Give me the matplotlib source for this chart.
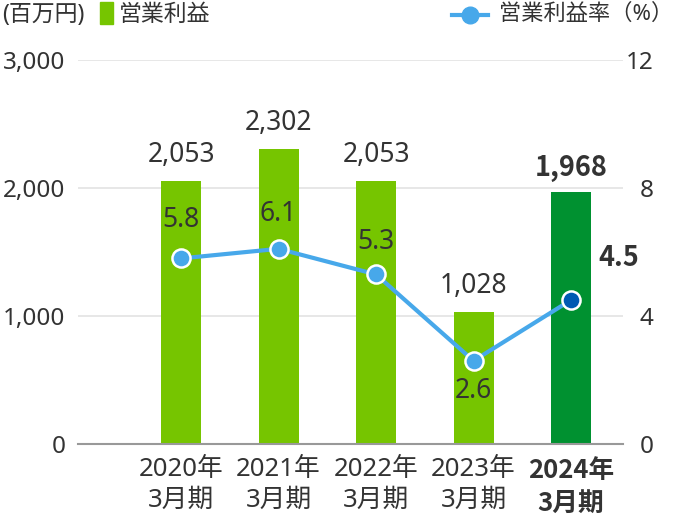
import matplotlib
matplotlib.use('Agg')
import matplotlib.pyplot as plt
from matplotlib.lines import Line2D
from matplotlib.patches import Patch

plt.rcParams['font.family'] = ['Noto Sans', 'Noto Sans CJK JP', 'DejaVu Sans']
BOLD_FAMILY = ['Noto Sans CJK JP', 'DejaVu Sans']  # Noto Sans has no bold here

periods = ['2020年\n3月期', '2021年\n3月期', '2022年\n3月期', '2023年\n3月期', '2024年\n3月期']
profit = [2053, 2302, 2053, 1028, 1968]
margin = [5.8, 6.1, 5.3, 2.6, 4.5]
profit_labels = ['2,053', '2,302', '2,053', '1,028', '1,968']
margin_labels = ['5.8', '6.1', '5.3', '2.6', '4.5']

c_bar = '#76C500'
c_bar_last = '#009130'
c_line = '#47A8EA'
c_pt_last = '#0059B2'
c_text = '#333333'

fig = plt.figure(figsize=(6.75, 5.22), dpi=100)
ax = fig.add_axes([0.1156, 0.1494, 0.8074, 0.7356])
ax2 = ax.twinx()

x = list(range(len(periods)))
colors = [c_bar] * 4 + [c_bar_last]
ax.bar(x, profit, width=0.41, color=colors, zorder=2)
ax.set_xlim(-1.056, 4.533)
ax.set_ylim(0, 3000)
ax.set_yticks([0, 1000, 2000, 3000])
ax.set_yticklabels(['0', '1,000', '2,000', '3,000'])
ax.grid(axis='y', color='#e3e3e3', linewidth=1.2, zorder=0)
ax.set_axisbelow(True)
for s in ['top', 'right', 'left']:
    ax.spines[s].set_visible(False)
ax.spines['bottom'].set_color('#999999')
ax.spines['bottom'].set_linewidth(1.5)
ax.tick_params(axis='y', length=0, pad=9, labelsize=17.5, labelcolor=c_text)
ax.tick_params(axis='x', length=0, pad=9, labelsize=18.5, labelcolor=c_text)
ax.set_xticks(x)
ax.set_xticklabels(periods, linespacing=1.32)
last = ax.get_xticklabels()[-1]
last.set_fontweight('bold')
last.set_family(BOLD_FAMILY)

for i, (v, lab) in enumerate(zip(profit, profit_labels)):
    if i == 4:
        ax.annotate(lab, (i, v), xytext=(0, 7), textcoords='offset points',
                    ha='center', va='bottom', fontsize=19.5, color=c_text,
                    fontweight='bold', family=BOLD_FAMILY)
    else:
        ax.annotate(lab, (i, v), xytext=(0, 9), textcoords='offset points',
                    ha='center', va='bottom', fontsize=19, color=c_text)

ax2.set_ylim(0, 12)
ax2.set_yticks([0, 4, 8, 12])
for s in ['top', 'right', 'left', 'bottom']:
    ax2.spines[s].set_visible(False)
ax2.tick_params(axis='y', length=0, pad=22, labelsize=17.5, labelcolor=c_text)
for t in ax2.get_yticklabels():
    t.set_horizontalalignment('right')
ax2.plot(x, margin, color=c_line, linewidth=3, zorder=3)
ax2.scatter(x[:4], margin[:4], s=170, color=c_line, edgecolor='white',
            linewidth=1.8, zorder=4)
ax2.scatter(x[4:], margin[4:], s=170, color=c_pt_last, edgecolor='white',
            linewidth=1.8, zorder=4)

offsets = [(0, 28), (0, 25), (0, 23), (0, -22), (34, 30)]
for i, (v, lab) in enumerate(zip(margin, margin_labels)):
    dx, dy = offsets[i]
    if i == 4:
        ax2.annotate(lab, (i, v), xytext=(dx, dy), textcoords='offset points',
                     ha='center', va='center', fontsize=19.5, color=c_text,
                     fontweight='bold', family=BOLD_FAMILY)
    else:
        ax2.annotate(lab, (i, v), xytext=(dx, dy), textcoords='offset points',
                     ha='center', va='center', fontsize=19, color=c_text)

# legend row
fig.text(0.003, 0.972, '(百万円)', fontsize=16.5, color=c_text, va='center', ha='left')
fig.legend(handles=[Patch(color=c_bar, label='営業利益')], loc='center left',
           bbox_to_anchor=(0.134, 0.972), frameon=False, fontsize=16.5,
           handlelength=0.6, handleheight=1.1, handletextpad=0.25, borderaxespad=0,
           labelcolor=c_text)
fig.add_artist(Line2D([0.670, 0.723], [0.972, 0.972], color=c_line, linewidth=3,
                      transform=fig.transFigure))
fig.add_artist(Line2D([0.6965], [0.972], color=c_line, marker='o', markersize=12,
                      transform=fig.transFigure))
fig.text(0.997, 0.972, '営業利益率（%）', fontsize=16, color=c_text,
         va='center', ha='right')

fig.savefig('out.png', dpi=100)
